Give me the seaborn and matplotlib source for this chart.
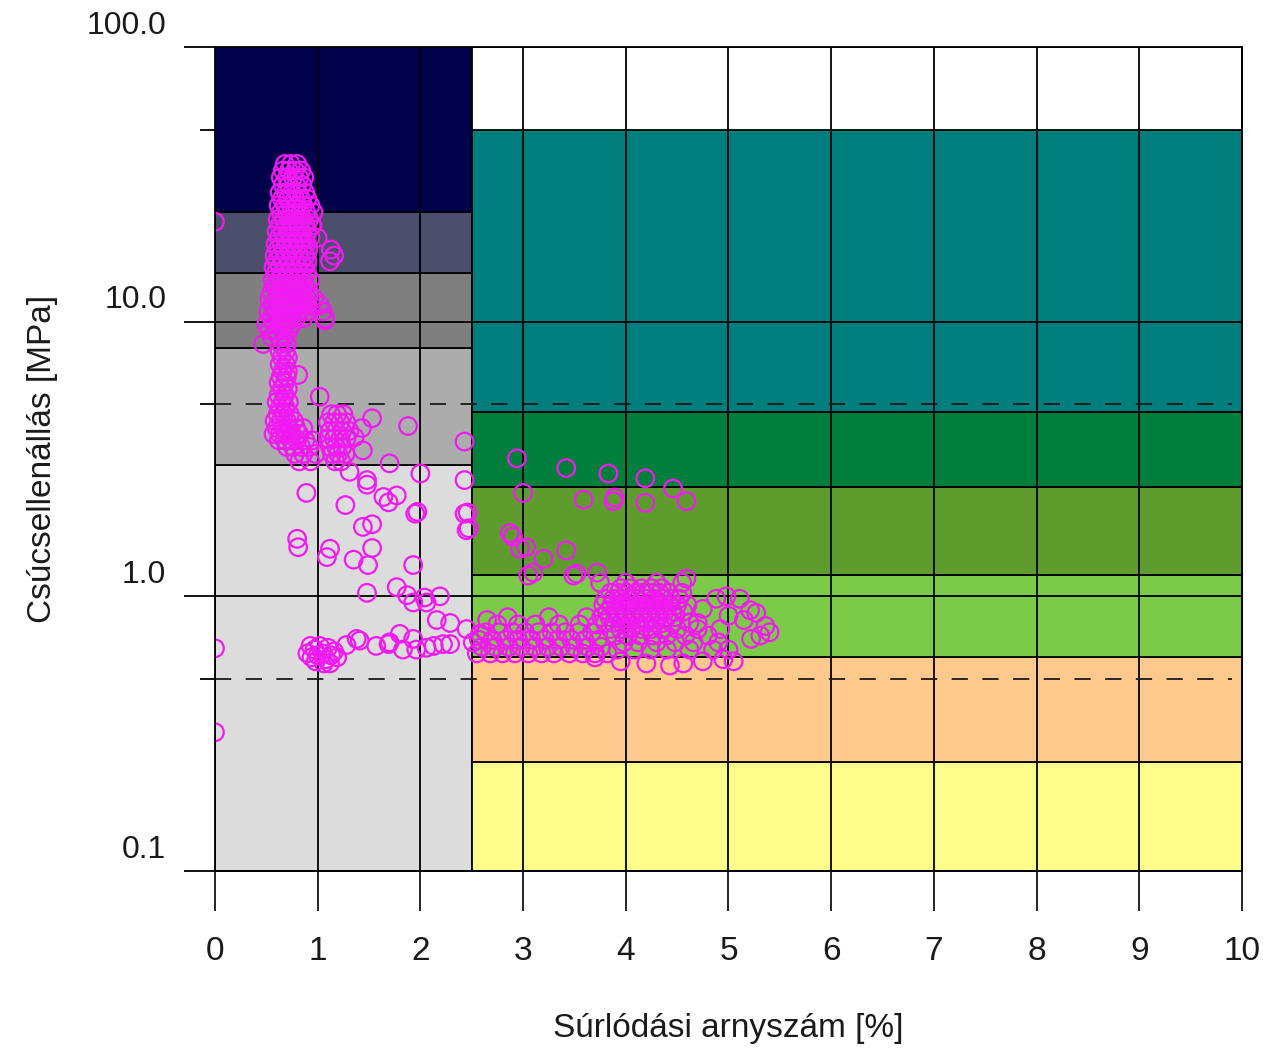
import matplotlib
matplotlib.use("Agg")
import matplotlib.pyplot as plt
import matplotlib.transforms as mtransforms
from matplotlib.ticker import NullFormatter
import seaborn as sns
import pandas as pd

# zone boundaries (MPa) and colours
left_edge = 2.5
left_bounds = [0.1, 3, 8, 15, 25, 100]
left_colors = ["#dcdcdc", "#acacac", "#7f7f7f", "#4b4f6b", "#00004b"]
right_bounds = [0.1, 0.25, 0.6, 1.2, 2.5, 4.7, 50, 100]
right_colors = ["#fefd8b", "#fdc98d", "#7ccb48", "#5e9c2e", "#007f3c", "#007d7d", "#ffffff"]
dashed_levels = [0.5, 5]

x_ticks = list(range(0, 11))
y_ticks = [0.1, 1, 10, 100]
y_tick_labels = ["0.1", "1.0", "10.0", "100.0"]
y_minor = [0.5, 5, 50]

# measured points: rows of (qc, [fs values])
column_rows = [
    (37.5, [0.68, 0.74, 0.80]),
    (35.5, [0.66, 0.72, 0.78, 0.84]),
    (33.5, [0.64, 0.70, 0.76, 0.82, 0.87]),
    (31.5, [0.66, 0.72, 0.79, 0.85]),
    (29.5, [0.63, 0.69, 0.75, 0.81, 0.88]),
    (28.0, [0.65, 0.71, 0.78, 0.84, 0.90]),
    (26.5, [0.62, 0.68, 0.74, 0.80, 0.86, 0.93]),
    (25.0, [0.64, 0.70, 0.77, 0.83, 0.89, 0.96]),
    (23.6, [0.61, 0.67, 0.73, 0.79, 0.85, 0.92]),
    (22.4, [0.63, 0.70, 0.76, 0.82, 0.88, 0.95]),
    (21.3, [0.60, 0.66, 0.72, 0.78, 0.84, 0.90]),
    (20.2, [0.62, 0.68, 0.74, 0.80, 0.86, 0.93, 1.00]),
    (19.2, [0.59, 0.65, 0.71, 0.77, 0.83, 0.89]),
    (18.3, [0.61, 0.67, 0.73, 0.79, 0.85, 0.91, 1.13]),
    (17.4, [0.58, 0.64, 0.70, 0.76, 0.82, 0.88, 1.16]),
    (16.6, [0.60, 0.66, 0.72, 0.78, 0.84, 0.90, 1.12]),
    (15.8, [0.57, 0.63, 0.69, 0.75, 0.81, 0.87]),
    (15.0, [0.59, 0.65, 0.71, 0.77, 0.83, 0.89]),
    (14.2, [0.56, 0.62, 0.68, 0.74, 0.80, 0.86, 0.93]),
    (13.5, [0.58, 0.64, 0.70, 0.76, 0.82, 0.88]),
    (12.8, [0.55, 0.61, 0.67, 0.73, 0.79, 0.85, 0.92]),
    (12.1, [0.53, 0.59, 0.65, 0.71, 0.77, 0.83, 0.90, 0.97]),
    (11.5, [0.56, 0.62, 0.68, 0.74, 0.80, 0.87, 0.94, 1.02]),
    (10.9, [0.52, 0.58, 0.64, 0.70, 0.76, 0.83, 0.90, 1.05]),
    (10.3, [0.55, 0.61, 0.67, 0.73, 0.79, 0.86, 1.07]),
    (9.8, [0.50, 0.57, 0.63, 0.69, 0.75]),
    (9.3, [0.53, 0.60, 0.66, 0.72]),
    (8.8, [0.55, 0.62, 0.68]),
    (8.3, [0.47, 0.64, 0.70]),
    (7.8, [0.63, 0.69]),
    (7.4, [0.65, 0.71]),
    (7.0, [0.63, 0.69]),
    (6.6, [0.66, 0.71]),
    (6.3, [0.64, 0.70]),
    (6.0, [0.62, 0.68]),
    (5.7, [0.65, 0.71]),
    (5.4, [0.62, 0.68]),
    (5.1, [0.60, 0.66, 0.72]),
    (4.85, [0.63, 0.69]),
    (4.6, [0.61, 0.67, 0.73]),
    (4.35, [0.58, 0.64, 0.70, 0.77]),
    (4.1, [0.60, 0.66, 0.72, 0.79, 0.86]),
    (3.9, [0.57, 0.63, 0.69, 0.75, 0.82]),
    (3.7, [0.62, 0.68, 0.74, 0.80, 0.88, 0.95]),
    (3.5, [0.70, 0.76, 0.84, 0.92]),
    (3.3, [0.78, 0.86, 0.98]),
    (3.1, [0.82, 0.93]),
]

blob_rows = [
    (4.6, [1.13, 1.19, 1.25]),
    (4.3, [1.10, 1.16, 1.22, 1.28]),
    (4.0, [1.12, 1.18, 1.24, 1.31]),
    (3.75, [1.10, 1.16, 1.22, 1.28]),
    (3.5, [1.12, 1.18, 1.24]),
    (3.3, [1.14, 1.20, 1.27]),
    (3.1, [1.17, 1.23]),
]

scattered_pts = [
    (0.0, 23.1), (1.07, 10.1), (0.81, 6.4), (1.02, 5.33), (1.53, 4.45),
    (1.88, 4.17), (2.43, 3.66), (1.43, 4.1), (1.44, 3.4), (1.36, 3.8),
    (1.70, 3.05), (2.0, 2.8), (2.43, 2.65), (0.89, 2.38), (1.31, 2.84),
    (1.48, 2.65), (1.48, 2.55), (1.64, 2.3), (1.69, 2.2), (1.77, 2.33),
    (1.95, 2.0), (1.97, 2.03), (1.27, 2.15), (2.43, 2.0), (2.45, 1.74),
    (1.53, 1.83), (1.44, 1.79), (0.80, 1.62), (0.81, 1.51), (1.12, 1.49),
    (1.09, 1.39), (1.53, 1.5), (1.35, 1.36), (1.49, 1.3), (1.93, 1.30),
    (1.48, 1.03), (1.77, 1.08), (1.87, 1.01), (2.04, 0.99), (2.19, 1.0),
    (1.93, 0.95), (2.06, 0.95), (2.46, 2.02), (2.47, 1.77), (0.0, 0.647),
    (0.0, 0.32),
    (2.94, 3.18), (3.42, 2.93), (3.83, 2.8), (4.19, 2.69), (4.46, 2.47),
    (3.0, 2.38), (3.59, 2.25), (3.89, 2.29), (3.88, 2.22), (4.19, 2.19),
    (4.59, 2.22), (2.87, 1.70), (2.90, 1.65), (2.97, 1.49), (3.03, 1.51),
    (3.2, 1.37), (3.42, 1.47), (3.05, 1.19), (3.10, 1.22), (3.49, 1.19),
    (3.52, 1.21), (3.72, 1.22), (4.59, 1.16),
]

low_left_pts = [
    (0.90, 0.62), (0.94, 0.60), (0.97, 0.64), (1.00, 0.61), (1.02, 0.66),
    (1.05, 0.62), (1.08, 0.59), (1.10, 0.65), (1.13, 0.61), (1.16, 0.63),
    (1.19, 0.60), (0.93, 0.66), (1.06, 0.57), (1.12, 0.57), (0.98, 0.58),
    (1.28, 0.665), (1.38, 0.70), (1.41, 0.69), (1.57, 0.66), (1.69, 0.67),
    (1.70, 0.68), (1.80, 0.73), (1.83, 0.64), (1.93, 0.70), (2.16, 0.82),
    (2.29, 0.80), (2.13, 0.66), (2.22, 0.67), (2.29, 0.67), (1.96, 0.64),
    (2.06, 0.65), (2.45, 0.76), (2.51, 0.68), (2.58, 0.73), (2.65, 0.82),
]

band_rows = [
    (0.62, [2.55, 2.68, 2.80, 2.92, 3.05, 3.18, 3.30, 3.45, 3.58, 3.70, 3.82]),
    (0.655, [2.60, 2.73, 2.86, 2.98, 3.11, 3.24, 3.37, 3.50, 3.63, 3.76]),
    (0.695, [2.57, 2.70, 2.83, 2.95, 3.08, 3.21, 3.34, 3.47, 3.60, 3.73]),
    (0.74, [2.64, 2.77, 2.90, 3.02, 3.15, 3.28, 3.41, 3.54, 3.67]),
    (0.79, [2.75, 2.95, 3.12, 3.35, 3.55, 3.72]),
    (0.84, [2.85, 3.25, 3.62]),
]

cluster_rows = [
    (1.12, [3.75, 4.00, 4.30, 4.55]),
    (1.07, [3.95, 4.05, 4.15, 4.25, 4.35]),
    (1.03, [3.85, 3.93, 4.01, 4.09, 4.17, 4.25, 4.33, 4.42, 4.55]),
    (0.98, [3.80, 3.88, 3.96, 4.04, 4.12, 4.20, 4.28, 4.36, 4.44, 4.52]),
    (0.93, [3.78, 3.86, 3.94, 4.02, 4.10, 4.18, 4.26, 4.34, 4.42, 4.50, 4.60]),
    (0.88, [3.82, 3.90, 3.98, 4.06, 4.14, 4.22, 4.30, 4.38, 4.46, 4.56]),
    (0.84, [3.76, 3.84, 3.92, 4.00, 4.08, 4.16, 4.24, 4.32, 4.40, 4.48]),
    (0.80, [3.80, 3.88, 3.96, 4.04, 4.12, 4.20, 4.28, 4.36, 4.45, 4.62]),
    (0.76, [3.85, 3.95, 4.05, 4.15, 4.25, 4.35, 4.50, 4.70]),
    (0.72, [3.90, 4.02, 4.14, 4.26, 4.40, 4.58, 4.80]),
    (0.68, [3.98, 4.12, 4.30, 4.48, 4.66, 4.90]),
    (0.64, [3.92, 4.08, 4.24, 4.40, 4.62, 4.85, 5.00]),
]

tail_pts = [
    (4.88, 0.98), (4.98, 1.0), (5.11, 0.98), (5.21, 0.89), (5.27, 0.87),
    (5.36, 0.78), (5.40, 0.74), (5.31, 0.72), (5.15, 0.82), (5.0, 0.85),
    (4.75, 0.90), (5.22, 0.70), (4.70, 0.80), (4.92, 0.76),
    (4.2, 0.57), (4.43, 0.56), (4.56, 0.57), (4.75, 0.58), (4.95, 0.59),
    (5.05, 0.58), (3.95, 0.58), (3.70, 0.60),
]


def rows_to_points(rows):
    '''expand (qc, [fs, ...]) rows into (fs, qc) pairs'''
    return [(fs, qc) for qc, fs_list in rows for fs in fs_list]


points = (rows_to_points(column_rows) + rows_to_points(blob_rows) + scattered_pts
          + low_left_pts + rows_to_points(band_rows) + rows_to_points(cluster_rows) + tail_pts)
df = pd.DataFrame(points, columns=["fs", "qc"])

sns.set_theme(style="white")
plt.rcParams["font.family"] = ["Liberation Sans", "DejaVu Sans"]

fig = plt.figure(figsize=(12.63, 10.54), dpi=100)
ax = fig.add_axes([0.1702, 0.1736, 0.8132, 0.7818])
ax.set_yscale("log")
ax.set_xlim(0, 10)
ax.set_ylim(0.1, 100)

# classification zones
for lo, hi, col in zip(left_bounds[:-1], left_bounds[1:], left_colors):
    ax.fill_between([0, left_edge], lo, hi, facecolor=col, edgecolor="black", linewidth=1.3, zorder=1)
for lo, hi, col in zip(right_bounds[:-1], right_bounds[1:], right_colors):
    ax.fill_between([left_edge, 10], lo, hi, facecolor=col, edgecolor="black", linewidth=1.3, zorder=1)

# grid
for xv in x_ticks:
    ax.axvline(xv, color="black", linewidth=1.3, zorder=2)
for yv in [1, 10]:
    ax.axhline(yv, color="black", linewidth=1.3, zorder=2)
for yv in dashed_levels:
    ax.axhline(yv, xmin=0, xmax=0.99, color="#1a1a1a", linewidth=1.3,
               linestyle=(0, (9, 8)), zorder=2)

sns.scatterplot(data=df, x="fs", y="qc", ax=ax, marker="o", s=160,
                facecolor="none", edgecolor="#f21af2", linewidth=1.6,
                zorder=3, legend=False)

for side in ["left", "right", "top", "bottom"]:
    ax.spines[side].set_color("black")
    ax.spines[side].set_linewidth(1.3)
    ax.spines[side].set_zorder(4)

ax.set_xticks(x_ticks)
ax.set_xticklabels([str(v) for v in x_ticks])
ax.set_yticks(y_ticks)
ax.set_yticklabels(y_tick_labels)
ax.set_yticks(y_minor, minor=True)
ax.yaxis.set_minor_formatter(NullFormatter())
ax.tick_params(axis="x", which="major", direction="out", length=29, width=1.2,
               color="black", pad=18, labelsize=24, bottom=True, labelcolor="#1a1a1a")
ax.tick_params(axis="y", which="major", direction="out", length=22, width=1.3,
               color="black", pad=13, labelsize=23, left=True, labelcolor="#1a1a1a")
ax.tick_params(axis="y", which="minor", direction="out", length=11, width=1.3,
               color="black", left=True)

offset = mtransforms.ScaledTranslation(0, 0.25, fig.dpi_scale_trans)
for lab in ax.get_yticklabels():
    lab.set_transform(lab.get_transform() + offset)

ax.set_xlabel("Súrlódási arnyszám [%]", fontsize=24, color="#1a1a1a")
ax.set_ylabel("Csúcsellenállás [MPa]", fontsize=24, color="#1a1a1a")
ax.xaxis.set_label_coords(0.5, -0.172)
ax.yaxis.set_label_coords(-0.153, 0.5)

fig.savefig("out.png", dpi=100)
